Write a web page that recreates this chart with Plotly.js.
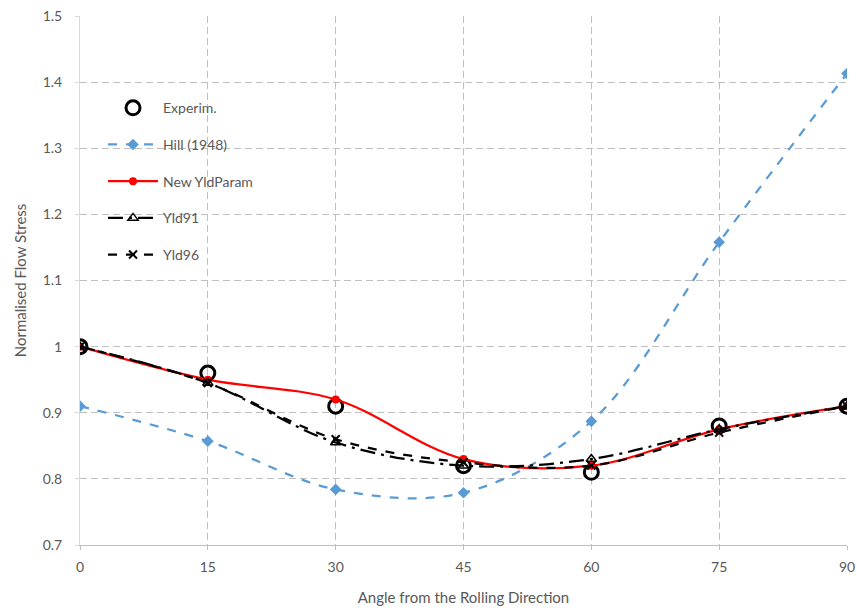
<!DOCTYPE html>
<html><head><meta charset="utf-8">
<script src="https://cdn.plot.ly/plotly-3.0.1.min.js"></script>
<style>html,body{margin:0;padding:0;background:#fff}#chart{width:857px;height:610px}</style>
</head><body><div id="chart"></div>
<script>
const angles = [0, 15, 30, 45, 60, 75, 90];
const experim = [1.0, 0.96, 0.91, 0.82, 0.81, 0.88, 0.91];
const hill1948 = [0.91, 0.857, 0.784, 0.779, 0.887, 1.158, 1.413];
const newYldParam = [1.0, 0.95, 0.92, 0.83, 0.82, 0.875, 0.91];
const yld91 = [1.0, 0.945, 0.855, 0.82, 0.83, 0.875, 0.91];
const yld96 = [1.0, 0.945, 0.86, 0.825, 0.82, 0.87, 0.91];
const xTicks = [0, 15, 30, 45, 60, 75, 90];
const yTicks = [0.7, 0.8, 0.9, 1.0, 1.1, 1.2, 1.3, 1.4, 1.5];
const yTickText = ['0.7', '0.8', '0.9', '1', '1.1', '1.2', '1.3', '1.4', '1.5'];

const traces = [
  {x: angles, y: experim, name: 'Experim.', mode: 'markers', legendgroup: 'a',
   marker: {symbol: 'circle-open', size: 14, color: '#000', line: {width: 3, color: '#000'}}},
  {x: angles, y: hill1948, name: 'Hill (1948)', mode: 'lines+markers', legendgroup: 'b',
   line: {color: '#5B9BD5', width: 2.25, dash: 'dash', shape: 'spline', smoothing: 1},
   marker: {symbol: 'diamond', size: 9, color: '#5B9BD5'}},
  {x: angles, y: newYldParam, name: 'New YldParam', mode: 'lines+markers', legendgroup: 'c',
   line: {color: '#FF0000', width: 2.25, shape: 'spline', smoothing: 1},
   marker: {symbol: 'circle', size: 8, color: '#FF0000'}},
  {x: angles, y: yld91, name: 'Yld91', mode: 'lines+markers', legendgroup: 'd',
   line: {color: '#000', width: 2.25, dash: 'longdashdot', shape: 'spline', smoothing: 1},
   marker: {symbol: 'triangle-up-open', size: 9, color: '#000', line: {width: 1.5, color: '#000'}}},
  {x: angles, y: yld96, name: 'Yld96', mode: 'lines+markers', legendgroup: 'e',
   line: {color: '#000', width: 2.25, dash: 'dash', shape: 'spline', smoothing: 1},
   marker: {symbol: 'x-thin-open', size: 8, color: '#000', line: {width: 2, color: '#000'}}}
];

const layout = {
  width: 857, height: 610,
  margin: {l: 80, r: 10, t: 16, b: 65},
  paper_bgcolor: '#fff', plot_bgcolor: '#fff',
  font: {family: 'Lato, "Open Sans", sans-serif', color: '#595959', size: 13},
  xaxis: {
    range: [0, 90], tickvals: xTicks, ticktext: xTicks.map(String),
    showgrid: true, gridcolor: '#bfbfbf', griddash: '7px,4px', gridwidth: 1,
    showline: true, linecolor: '#bfbfbf', linewidth: 1, zeroline: false,
    ticks: 'outside', ticklen: 4, tickcolor: '#bfbfbf', ticklabelstandoff: 5,
    tickfont: {size: 14, color: '#595959'},
    title: {text: 'Angle from the Rolling Direction', font: {size: 15, color: '#595959'}, standoff: 18}
  },
  yaxis: {
    range: [0.7, 1.5], tickvals: yTicks, ticktext: yTickText,
    showgrid: true, gridcolor: '#bfbfbf', griddash: '7px,4px', gridwidth: 1,
    showline: true, linecolor: '#d9d9d9', linewidth: 1, zeroline: false,
    ticks: 'outside', ticklen: 4, tickcolor: '#d9d9d9', ticklabelstandoff: 10,
    tickfont: {size: 14, color: '#595959'},
    title: {text: 'Normalised Flow Stress', font: {size: 15, color: '#595959'}, standoff: 12}
  },
  showlegend: true,
  legend: {
    x: 0.03, y: 0.856, xanchor: 'left', yanchor: 'top',
    bgcolor: 'rgba(255,255,255,0)', borderwidth: 0,
    font: {size: 14, color: '#595959'},
    traceorder: 'grouped', tracegroupgap: 15.5, itemwidth: 50
  }
};

Plotly.newPlot('chart', traces, layout, {displayModeBar: false, staticPlot: true});
</script>
</body></html>
